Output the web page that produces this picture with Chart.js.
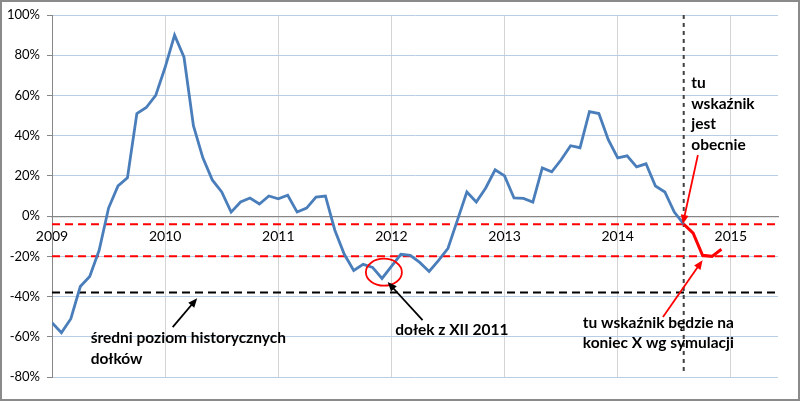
<!DOCTYPE html>
<html>
<head>
<meta charset="utf-8">
<script src="https://cdn.jsdelivr.net/npm/chart.js@4.4.1/dist/chart.umd.min.js"></script>
<style>
  html, body { margin: 0; padding: 0; background: #fff; }
  canvas { display: block; }
</style>
</head>
<body>
<canvas id="chart" width="800" height="401"></canvas>
<script>
// monthly index values from Jan 2009 (month 0) to Aug 2014 (month 67), in %
const indexValues = [
  -53, -58, -51, -35, -30, -17, 4, 15, 19, 51, 54, 60,
  74, 90, 79, 45, 29, 18, 12, 2, 7, 9, 6, 10,
  8.6, 10.4, 2, 4, 9.5, 10, -7, -19, -27, -24, -25.5, -31,
  -25, -19, -19.5, -23, -27.5, -22, -16, -2, 12, 7, 14, 23,
  20, 9, 8.8, 7, 24, 22, 28, 35, 34, 52, 51, 38,
  29, 30, 24.5, 26, 15, 12, 2, -4
];
// simulated path, starting at the current month
const forecastStart = 67;
const forecastValues = [-4, -8.5, -19.5, -20, -16.5];

const yearLabels = ["2009", "2010", "2011", "2012", "2013", "2014", "2015"];
const currentLevel = -4;
const forecastLevel = -20;
const historicLowLevel = -38;
const nowMonth = 67;

const xMax = 77;

const blueData = indexValues.map((v, i) => ({ x: i, y: v }));
const redData = forecastValues.map((v, i) => ({ x: forecastStart + i, y: v }));
const hLine = (y) => [{ x: 0, y: y }, { x: xMax, y: y }];

// notes placed in data units (month, %)
const notes = [
  { lines: ["tu", "wskaźnik", "jest", "obecnie"], x: 67.8, y: 66 },
  { lines: ["tu wskaźnik będzie na", "koniec X wg symulacji"], x: 56.3, y: -53 },
  { lines: ["dołek z XII 2011"], x: 36.4, y: -56.7 },
  { lines: ["średni poziom historycznych", "dołków"], x: 4.1, y: -60.7 }
];
const arrows = [
  { from: [68.5, 30.3], to: [66.9, -4], color: "#ff0000" },
  { from: [64.8, -50.2], to: [69.0, -21.9], color: "#ff0000" },
  { from: [39.3, -51.7], to: [35.6, -32.8], color: "#000" },
  { from: [12.8, -55.2], to: [15.4, -40.8], color: "#000" }
];
const circleAt = [35.2, -27.9];

const frame = {
  id: "frame",
  beforeDraw(chart) {
    const c = chart.ctx;
    c.save();
    c.fillStyle = "#fff";
    c.fillRect(0, 0, chart.width, chart.height);
    c.restore();
  },
  afterDraw(chart) {
    const c = chart.ctx;
    const xs = chart.scales.x, ys = chart.scales.y;
    const px = (p) => [xs.getPixelForValue(p[0]), ys.getPixelForValue(p[1])];

    c.save();
    // ellipse around the Dec 2011 low
    const [cx, cy] = px(circleAt);
    c.strokeStyle = "#ff0000";
    c.lineWidth = 1.8;
    c.beginPath();
    c.ellipse(cx, cy, 18, 13.5, 0, 0, Math.PI * 2);
    c.stroke();

    // arrows
    arrows.forEach(a => {
      const [x1, y1] = px(a.from);
      const [x2, y2] = px(a.to);
      const ang = Math.atan2(y2 - y1, x2 - x1);
      c.strokeStyle = a.color;
      c.fillStyle = a.color;
      c.lineWidth = 1.8;
      c.beginPath();
      c.moveTo(x1, y1);
      c.lineTo(x2 - 6 * Math.cos(ang), y2 - 6 * Math.sin(ang));
      c.stroke();
      c.beginPath();
      c.moveTo(x2, y2);
      c.lineTo(x2 - 10 * Math.cos(ang - 0.4), y2 - 10 * Math.sin(ang - 0.4));
      c.lineTo(x2 - 10 * Math.cos(ang + 0.4), y2 - 10 * Math.sin(ang + 0.4));
      c.closePath();
      c.fill();
    });

    // notes
    c.font = "bold 15.5px Lato, 'Open Sans', sans-serif";
    c.textBaseline = "middle";
    c.textAlign = "left";
    c.fillStyle = "#000";
    notes.forEach(n => {
      const [x, y] = px([n.x, n.y]);
      n.lines.forEach((t, i) => c.fillText(t, x, y + i * 20.5));
    });

    // outer border
    c.strokeStyle = "#8a8a8a";
    c.lineWidth = 2;
    c.strokeRect(1, 1, chart.width - 2, chart.height - 2);
    c.restore();
  }
};

new Chart(document.getElementById("chart"), {
  type: "line",
  data: {
    datasets: [
      {
        data: blueData,
        borderColor: "#4a7ebb",
        borderWidth: 2.8,
        pointRadius: 0,
        tension: 0
      },
      {
        data: redData,
        borderColor: "#ff0000",
        borderWidth: 3,
        pointRadius: 0,
        tension: 0
      },
      {
        data: hLine(currentLevel),
        borderColor: "#ff0000",
        borderWidth: 2,
        borderDash: [8, 5],
        pointRadius: 0
      },
      {
        data: hLine(forecastLevel),
        borderColor: "#ff0000",
        borderWidth: 2,
        borderDash: [8, 5],
        pointRadius: 0
      },
      {
        data: hLine(historicLowLevel),
        borderColor: "#000",
        borderWidth: 2,
        borderDash: [8, 5],
        pointRadius: 0
      },
      {
        data: [{ x: nowMonth, y: -77 }, { x: nowMonth, y: 100 }],
        borderColor: "#404040",
        borderWidth: 2,
        borderDash: [4, 4],
        pointRadius: 0
      }
    ]
  },
  options: {
    responsive: false,
    animation: false,
    layout: { padding: { top: 15, right: 22, bottom: 24, left: 0 } },
    plugins: {
      legend: { display: false },
      tooltip: { enabled: false }
    },
    scales: {
      x: {
        type: "linear",
        position: { y: 0 },
        min: 0,
        max: xMax,
        afterBuildTicks: (scale) => {
          scale.ticks = yearLabels.map((_, i) => ({ value: i * 12 }));
        },
        ticks: {
          autoSkip: false,
          maxRotation: 0,
          padding: 12,
          color: "#000",
          font: { family: "Lato", size: 14 },
          callback: (v) => yearLabels[v / 12]
        },
        grid: { color: "#d4d4d4", drawTicks: false, lineWidth: 1 },
        border: { color: "#868686", width: 1.2 }
      },
      y: {
        min: -80,
        max: 100,
        afterFit: (scale) => { scale.width = 52; },
        ticks: {
          stepSize: 20,
          padding: 7,
          color: "#000",
          font: { family: "Lato", size: 13 },
          callback: (v) => v + "%"
        },
        grid: {
          color: (ctx) => (ctx.tick && ctx.tick.value === 0) ? "#868686" : "#b9cde5",
          tickColor: "#868686",
          tickLength: 5
        },
        border: { color: "#868686" }
      }
    }
  },
  plugins: [frame]
});
</script>
</body>
</html>
